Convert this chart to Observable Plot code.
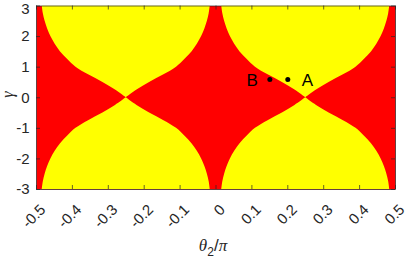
<!DOCTYPE html>
<html><head><meta charset="utf-8">
<script src="https://cdn.jsdelivr.net/npm/d3@7"></script>
<script src="https://cdn.jsdelivr.net/npm/@observablehq/plot@0.6"></script>
<style>body{margin:0;background:#fff} svg{display:block;background:#fff}</style>
</head><body><div id="chart"></div>
<script>
// Boundary of the yellow lobes: half-width (in θ2/π) at each |γ|
const gammaLevels = [0, 0.25, 0.5, 0.75, 1, 1.25, 1.5, 1.75, 2, 2.25, 2.5, 2.75, 3];
const halfWidth  = [0, 0.03, 0.065, 0.105, 0.14, 0.163, 0.183, 0.198, 0.21, 0.219, 0.226, 0.231, 0.234];
const lobeCenters = [-0.25, 0.25];
const lobeSides = [1, -1];

const xTicks = [-0.5, -0.4, -0.3, -0.2, -0.1, 0, 0.1, 0.2, 0.3, 0.4, 0.5];
const xTickLabels = ["-0.5", "-0.4", "-0.3", "-0.2", "-0.1", "0", "0.1", "0.2", "0.3", "0.4", "0.5"];
const yTicks = [-3, -2, -1, 0, 1, 2, 3];
const yTickLabels = ["-3", "-2", "-1", "0", "1", "2", "3"];

const pointNames = ["B", "A"];
const pointX = [0.15, 0.2];
const pointY = [0.6, 0.6];

const W = 415, H = 260, mL = 36, mR = 20, mT = 5.5, mB = 71;
const plotW = W - mL - mR, plotH = H - mT - mB;
const sans = "'Liberation Sans', Arial, Helvetica, sans-serif";
const serif = "'Liberation Serif', 'Times New Roman', serif";
const axisColor = "#262626";
const tickLen = 4;

const lobes = [];
lobeCenters.forEach((c, ci) => lobeSides.forEach((s, si) => {
  gammaLevels.forEach((g, i) => lobes.push({lobe: ci * 2 + si, y: s * g, x1: c - halfWidth[i], x2: c + halfWidth[i]}));
}));
const points = pointNames.map((n, i) => ({name: n, x: pointX[i], y: pointY[i]}));
const yTickData = yTicks.map((v, i) => ({v, label: yTickLabels[i]}));
const topTick = yTickData.filter(d => d.v === 3);
const otherTicks = yTickData.filter(d => d.v !== 3);

const chart = Plot.plot({
  width: W, height: H,
  marginLeft: mL, marginRight: mR, marginTop: mT, marginBottom: mB,
  style: {fontFamily: sans, background: "#fff", overflow: "visible"},
  x: {domain: [-0.5, 0.5], axis: null},
  y: {domain: [-3, 3], axis: null},
  marks: [
    Plot.frame({fill: "#ff0000", stroke: null}),
    Plot.areaX(lobes, {y: "y", x1: "x1", x2: "x2", z: "lobe", fill: "#ffff00", curve: "catmull-rom", clip: true}),
    Plot.frame({stroke: axisColor, strokeWidth: 0.7}),
    // inward ticks on four sides
    Plot.ruleX(xTicks, {x: d => d, insetTop: plotH - tickLen, stroke: axisColor, strokeWidth: 0.7}),
    Plot.ruleX(xTicks, {x: d => d, insetBottom: plotH - tickLen, stroke: axisColor, strokeWidth: 0.7}),
    Plot.ruleY(yTicks, {y: d => d, insetRight: plotW - tickLen, stroke: axisColor, strokeWidth: 0.7}),
    Plot.ruleY(yTicks, {y: d => d, insetLeft: plotW - tickLen, stroke: axisColor, strokeWidth: 0.7}),
    // tick labels
    Plot.text(otherTicks, {y: "v", frameAnchor: "left", text: "label", textAnchor: "end", dx: -7, fontSize: 15, fill: axisColor}),
    Plot.text(topTick, {y: "v", frameAnchor: "left", text: "label", textAnchor: "end", dx: -7, dy: 3, fontSize: 15, fill: axisColor}),
    Plot.text(xTicks, {x: d => d, frameAnchor: "bottom", text: (d, i) => xTickLabels[i], textAnchor: "end", lineAnchor: "bottom", rotate: -45, dx: 10, dy: 21, fontSize: 15, fill: axisColor}),
    // y label
    Plot.text(["γ"], {frameAnchor: "left", text: d => d, rotate: -90, dx: -29, fontSize: 16, fontFamily: serif, fontStyle: "italic", fill: axisColor}),
    // points
    Plot.dot(points, {x: "x", y: "y", r: 2.5, fill: "#000", stroke: null}),
    Plot.text(points.filter(p => p.name === "B"), {x: "x", y: "y", text: "name", textAnchor: "end", dx: -12, dy: 1, fontSize: 17, fill: "#000"}),
    Plot.text(points.filter(p => p.name === "A"), {x: "x", y: "y", text: "name", textAnchor: "start", dx: 14, dy: 1, fontSize: 17, fill: "#000"})
  ]
});
document.getElementById("chart").appendChild(chart);

// x label with subscript
const svg = d3.select(chart);
const xl = svg.append("text")
  .attr("x", 213).attr("y", 251)
  .attr("text-anchor", "middle")
  .attr("fill", axisColor)
  .attr("font-size", 17)
  .attr("font-family", sans);
xl.append("tspan").attr("font-family", serif).attr("font-style", "italic").text("θ");
xl.append("tspan").attr("font-size", 12).attr("dy", 5).text("2");
xl.append("tspan").attr("dy", -5).text("/");
xl.append("tspan").attr("font-family", serif).attr("font-style", "italic").text("π");
</script>
</body></html>
